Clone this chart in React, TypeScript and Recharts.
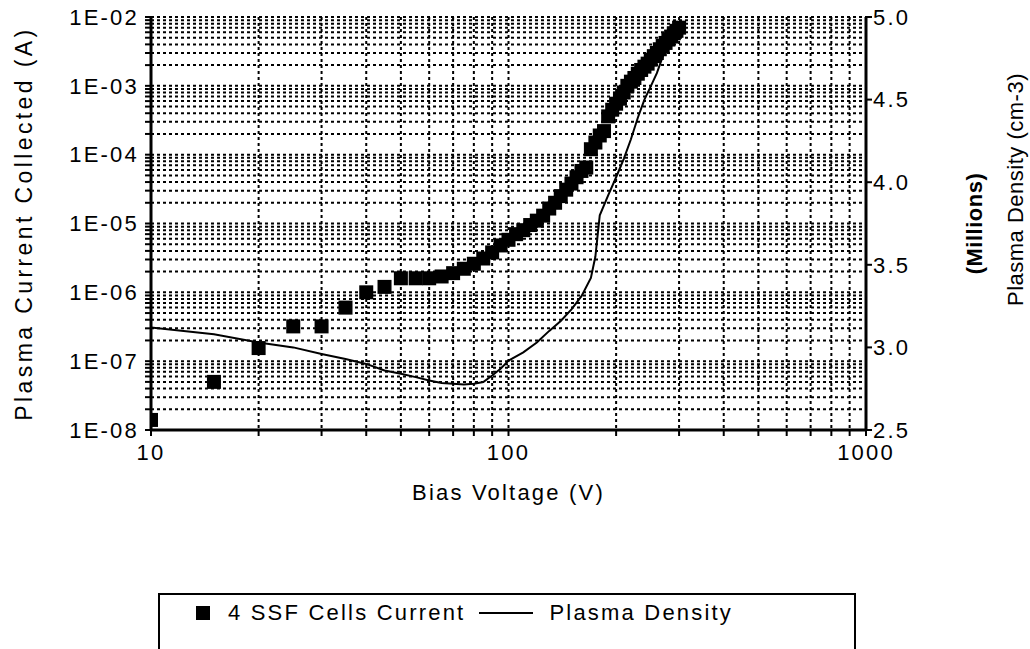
import { ComposedChart, Line, Scatter, XAxis, YAxis, CartesianGrid, Legend, Label } from 'recharts';

// bias voltage (V) for the cell-current points
const voltage = [
  10, 15, 20, 25, 30, 35, 40, 45, 50, 55, 60, 65, 70, 75, 80, 85, 90, 95, 100,
  105, 110, 115, 120, 125, 130, 135, 140, 145, 150, 155, 160, 165, 170, 175, 180,
  185, 190, 195, 200, 205, 210, 215, 220, 225, 230, 235, 240, 245, 250, 255, 260,
  265, 270, 275, 280, 285, 290, 295, 300,
];

// 4 SSF cells current (A)
const current = [
  1.4e-8, 5e-8, 1.55e-7, 3.2e-7, 3.2e-7, 6e-7, 1.0e-6, 1.2e-6, 1.6e-6, 1.6e-6,
  1.6e-6, 1.7e-6, 1.9e-6, 2.2e-6, 2.6e-6, 3.1e-6, 3.8e-6, 4.8e-6, 5.8e-6,
  7e-6, 8e-6, 9.5e-6, 1.1e-5, 1.3e-5, 1.65e-5, 2.0e-5, 2.5e-5, 3.1e-5, 3.8e-5,
  4.7e-5, 5.8e-5, 6.5e-5, 1.2e-4, 1.5e-4, 1.9e-4, 2.2e-4, 3.6e-4, 4.5e-4, 5.5e-4,
  6.5e-4, 8e-4, 1e-3, 1.15e-3, 1.3e-3, 1.5e-3, 1.7e-3, 1.9e-3, 2.1e-3, 2.4e-3,
  2.7e-3, 3e-3, 3.4e-3, 3.8e-3, 4.2e-3, 4.7e-3, 5.2e-3, 5.8e-3, 6.3e-3, 7e-3,
];

// plasma density line (millions cm-3)
const densityVoltage = [
  10, 15, 20, 25, 30, 35, 40, 45, 50, 55, 60, 65, 70, 75, 80, 85, 90, 95, 100,
  110, 120, 130, 140, 150, 160, 170, 175, 180, 190, 200, 210, 220, 230, 240, 250,
  260, 270, 280, 290, 300,
];
const density = [
  3.12, 3.08, 3.03, 3.0, 2.96, 2.93, 2.9, 2.86, 2.84, 2.82, 2.8, 2.785, 2.78,
  2.775, 2.78, 2.79, 2.83, 2.87, 2.92, 2.97, 3.03, 3.1, 3.16, 3.23, 3.31, 3.42,
  3.55, 3.8, 3.92, 4.03, 4.14, 4.26, 4.39, 4.5, 4.58, 4.66, 4.76, 4.85, 4.92, 4.97,
];

const xDecades = [10, 100, 1000];
const yDecades = [1e-8, 1e-7, 1e-6, 1e-5, 1e-4, 1e-3, 1e-2];
const mantissas = [1, 2, 3, 4, 5, 6, 7, 8, 9];
const rightTicks = [2.5, 3.0, 3.5, 4.0, 4.5, 5.0];

const expand = (decades: number[]) => {
  const out: number[] = [];
  decades.forEach((d, k) => {
    if (k === decades.length - 1) out.push(d);
    else mantissas.forEach((m) => out.push(+(d * m).toPrecision(3)));
  });
  return out;
};
const xTicks = expand(xDecades);
const yTicks = expand(yDecades);

const isDecade = (v: number) => {
  const e = Math.round(Math.log10(v));
  return Math.abs(v / Math.pow(10, e) - 1) < 1e-6;
};
const fmtX = (v: number) => (isDecade(v) ? String(v) : '');
const fmtY = (v: number) => {
  if (!isDecade(v)) return '';
  const e = Math.round(Math.log10(v));
  return '1E-' + String(-e).padStart(2, '0');
};

const currentData = voltage.map((v, k) => ({ v, i: current[k] }));
const densityData = densityVoltage.map((v, k) => ({ v, d: density[k] }));

const FONT = '"Liberation Sans", Arial, sans-serif';
const SPACING = 2.2;
const tickStyle = { fill: '#000', fontSize: 22, fontFamily: FONT, letterSpacing: SPACING };
const labelStyle = { fill: '#000', fontSize: 22, fontFamily: FONT, letterSpacing: SPACING, textAnchor: 'middle' as const };

const SquareDot = (props: any) => {
  const { cx, cy } = props;
  if (cx == null || cy == null) return null;
  return <rect x={cx - 7} y={cy - 7} width={14} height={14} fill="#000" />;
};

// vertical title on the right axis, placed relative to the axis box
const rightTitle = (text: string, dx: number, dy: number, bold: boolean) => (props: any) => {
  const vb = props.viewBox || {};
  const x = vb.x + dx;
  const y = vb.y + vb.height / 2 + dy;
  return (
    <text
      x={x}
      y={y}
      transform={`rotate(-90, ${x}, ${y})`}
      textAnchor="middle"
      dominantBaseline="central"
      fill="#000"
      fontSize={22}
      fontFamily={FONT}
      letterSpacing={0.5}
      fontWeight={bold ? 'bold' : 'normal'}
    >
      {text}
    </text>
  );
};

const LegendBox = () => (
  <div
    style={{
      border: '2px solid #000',
      height: 90,
      boxSizing: 'border-box',
      fontFamily: FONT,
      fontSize: 22,
      letterSpacing: SPACING,
      color: '#000',
    }}
  >
    <div style={{ display: 'flex', alignItems: 'center', height: 36, paddingLeft: 36 }}>
      <span style={{ width: 14, height: 14, background: '#000', display: 'inline-block', marginRight: 18 }} />
      <span>4 SSF Cells Current</span>
      <span style={{ width: 54, height: 2, background: '#000', display: 'inline-block', margin: '0 16px 0 14px' }} />
      <span>Plasma Density</span>
    </div>
  </div>
);

export default function App() {
  return (
    <div style={{ position: 'absolute', left: 0, top: 0, width: 1030, height: 649, background: '#fff', overflow: 'hidden' }}>
      <ComposedChart width={1030} height={649} margin={{ top: 17, right: 14, left: 16, bottom: 179 }}>
        <CartesianGrid yAxisId="left" stroke="#000" strokeWidth={2} strokeDasharray="3 3" />
        <XAxis
          dataKey="v"
          type="number"
          scale="log"
          domain={[10, 1000]}
          ticks={xTicks}
          tickFormatter={fmtX}
          interval={0}
          height={40}
          allowDataOverflow
          tick={tickStyle}
          tickSize={6}
          tickMargin={8}
          axisLine={{ stroke: '#000', strokeWidth: 3 }}
          tickLine={{ stroke: '#000', strokeWidth: 2 }}
        >
          <Label value="Bias Voltage (V)" position="bottom" offset={14} style={labelStyle} />
        </XAxis>
        <YAxis
          yAxisId="left"
          dataKey="i"
          type="number"
          scale="log"
          domain={[1e-8, 1e-2]}
          ticks={yTicks}
          tickFormatter={fmtY}
          interval={0}
          width={135}
          allowDataOverflow
          tick={tickStyle}
          tickSize={6}
          tickMargin={6}
          axisLine={{ stroke: '#000', strokeWidth: 3 }}
          tickLine={{ stroke: '#000', strokeWidth: 2 }}
        >
          <Label
            value="Plasma Current Collected (A)"
            angle={-90}
            position="insideLeft"
            offset={8}
            style={{ ...labelStyle, fontSize: 23, letterSpacing: 3.4 }}
          />
        </YAxis>
        <YAxis
          yAxisId="right"
          orientation="right"
          dataKey="d"
          type="number"
          domain={[2.5, 5]}
          ticks={rightTicks}
          tickFormatter={(v: number) => v.toFixed(1)}
          interval={0}
          width={150}
          allowDataOverflow
          tick={tickStyle}
          tickSize={6}
          tickMargin={1}
          axisLine={{ stroke: '#000', strokeWidth: 3 }}
          tickLine={{ stroke: '#000', strokeWidth: 2 }}
        >
          <Label content={rightTitle('(Millions)', 108, 0, true)} />
          <Label content={rightTitle('Plasma Density (cm-3)', 149, -34, false)} />
        </YAxis>
        <Legend
          layout="horizontal"
          verticalAlign="middle"
          align="center"
          wrapperStyle={{ top: 593, left: 158, width: 698, height: 90 }}
          content={() => <LegendBox />}
        />
        <Line
          yAxisId="right"
          data={densityData}
          dataKey="d"
          name="Plasma Density"
          type="linear"
          stroke="#000"
          strokeWidth={2}
          dot={false}
          activeDot={false}
          isAnimationActive={false}
        />
        <Scatter
          yAxisId="left"
          data={currentData}
          dataKey="i"
          name="4 SSF Cells Current"
          fill="#000"
          shape={SquareDot}
          isAnimationActive={false}
        />
      </ComposedChart>
    </div>
  );
}
